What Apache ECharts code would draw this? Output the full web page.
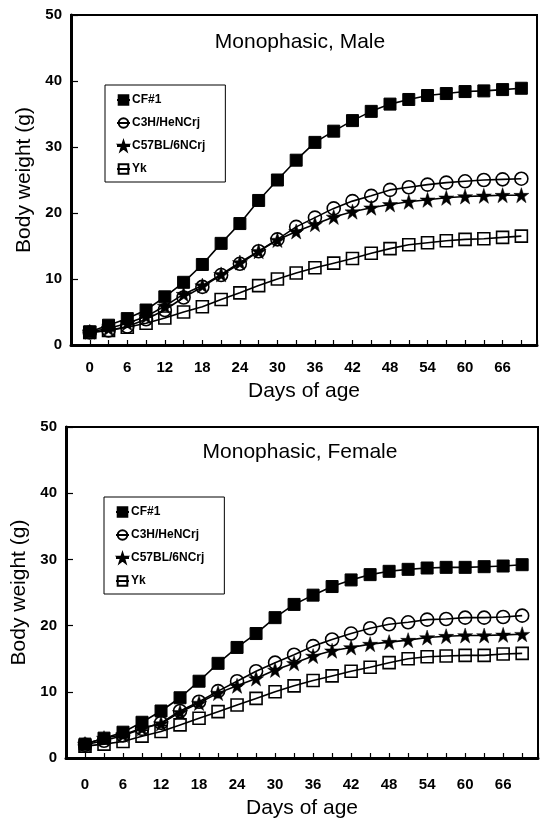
<!DOCTYPE html>
<html>
<head>
<meta charset="utf-8">
<script src="https://cdn.jsdelivr.net/npm/echarts@6/dist/echarts.min.js"></script>
<style>
html,body{margin:0;padding:0;background:#fff;}
#chart{width:541px;height:820px;}
</style>
</head>
<body>
<div id="chart"></div>
<script>
// ---- data ----
const days = [0,3,6,9,12,15,18,21,24,27,30,33,36,39,42,45,48,51,54,57,60,63,66,69];
const seriesNames = ['CF#1','C3H/HeNCrj','C57BL/6NCrj','Yk'];
const panelTitles = ['Monophasic, Male','Monophasic, Female'];
const xTickLabels = [0,6,12,18,24,30,36,42,48,54,60,66];
const yTickLabels = [0,10,20,30,40,50];

const maleCF   = [2.0,3.0,4.0,5.3,7.3,9.5,12.2,15.4,18.4,21.9,25.0,28.0,30.7,32.4,34.0,35.4,36.5,37.2,37.8,38.1,38.4,38.5,38.7,38.9];
const maleC3H  = [1.9,2.2,2.8,3.9,5.3,7.2,8.8,10.6,12.3,14.2,16.0,17.9,19.3,20.7,21.8,22.6,23.5,23.9,24.3,24.6,24.8,25.0,25.1,25.2];
const maleC57  = [2.0,2.5,3.3,4.3,5.9,7.7,9.0,10.7,12.5,14.2,15.9,17.2,18.3,19.4,20.2,20.8,21.3,21.7,22.0,22.3,22.5,22.6,22.7,22.7];
const maleYk   = [1.9,2.2,2.7,3.3,4.1,5.0,5.8,6.9,7.9,9.0,10.0,10.9,11.7,12.4,13.1,13.9,14.6,15.2,15.5,15.8,16.0,16.1,16.3,16.5];

const femaleCF  = [2.1,3.0,3.9,5.4,7.1,9.1,11.6,14.3,16.7,18.8,21.2,23.2,24.6,25.9,26.9,27.7,28.2,28.5,28.7,28.8,28.8,28.9,29.0,29.2];
const femaleC3H = [2.0,2.6,3.4,4.4,5.3,7.1,8.5,10.1,11.6,13.1,14.4,15.6,16.9,17.9,18.8,19.6,20.2,20.5,20.9,21.0,21.2,21.2,21.3,21.5];
const femaleC57 = [2.1,3.0,3.5,4.5,5.2,6.9,8.3,9.8,10.9,12.0,13.3,14.3,15.4,16.2,16.7,17.2,17.5,17.8,18.2,18.4,18.5,18.5,18.6,18.7];
const femaleYk  = [1.8,2.1,2.5,3.3,4.0,5.0,6.0,7.0,8.0,9.0,10.0,10.9,11.7,12.4,13.1,13.7,14.4,15.0,15.3,15.4,15.5,15.5,15.7,15.8];

const panels = [
  [maleCF, maleC3H, maleC57, maleYk],
  [femaleCF, femaleC3H, femaleC57, femaleYk]
];

// ---- styles ----
const FONT = 'Liberation Sans, Arial, sans-serif';
const STAR = 'path://M50,0 L61.8,35.1 L98.9,35.1 L68.9,57 L80.3,92.7 L50,70.6 L19.7,92.7 L31.1,57 L1.1,35.1 L38.2,35.1 Z';
const markerStyles = [
  {symbol:'rect', size:12, itemStyle:{color:'#000', borderColor:'#000', borderWidth:1}},
  {symbol:'circle', size:13, itemStyle:{color:'rgba(255,255,255,0)', borderColor:'#000', borderWidth:1.6}},
  {symbol:STAR, size:15, itemStyle:{color:'#000', borderColor:'#000', borderWidth:0.5}},
  {symbol:'rect', size:12, itemStyle:{color:'rgba(255,255,255,0)', borderColor:'#000', borderWidth:1.6}}
];

const grids = [
  {left:71, top:15, width:466, height:330},
  {left:66, top:427, width:472, height:334}
];
const xLabelMargin = [15, 19];
const xNameGap = [36, 40];
const titlePos = [{top:32}, {top:442}];
const legendPos = [{left:105, top:85}, {left:104, top:497}];

const option = {
  animation:false,
  backgroundColor:'#fff',
  title: panelTitles.map((t,i)=>({
    text:t, left:300, textAlign:'center', top:titlePos[i].top, padding:0,
    textStyle:{fontFamily:FONT, fontSize:21, fontWeight:'normal', color:'#000'}
  })),
  legend: [0,1].map(i=>({
    orient:'vertical', left:legendPos[i].left, top:legendPos[i].top,
    data: seriesNames,
    itemWidth:13, itemHeight:12, itemGap:11,
    padding:[9,20,7,11],
    borderColor:'#000', borderWidth:1, backgroundColor:'#fff',
    textStyle:{fontFamily:FONT, fontSize:12, fontWeight:'bold', color:'#000', padding:[0,0,0,-3]},
    selectedMode:false
  })),
  grid: grids.map(g=>({left:g.left, top:g.top, width:g.width, height:g.height,
    show:true, borderColor:'#000', borderWidth:2, backgroundColor:'transparent'})),
  xAxis: [0,1].map(i=>({
    gridIndex:i, type:'value', min:-3, max:71.5, interval:3,
    name:'Days of age', nameLocation:'middle', nameGap:xNameGap[i],
    nameTextStyle:{fontFamily:FONT, fontSize:21, color:'#000'},
    axisLine:{show:true, onZero:false, lineStyle:{color:'#000', width:3}},
    axisTick:{show:true, inside:true, length:5, lineStyle:{color:'#000', width:1.2}},
    splitLine:{show:false},
    axisLabel:{margin:xLabelMargin[i], fontFamily:FONT, fontSize:15, fontWeight:'bold', color:'#000',
      showMinLabel:true, showMaxLabel:true,
      formatter:v=> xTickLabels.indexOf(v) >= 0 ? String(v) : ''}
  })),
  yAxis: [0,1].map(i=>({
    gridIndex:i, type:'value', min:0, max:50, interval:10,
    name:'Body weight (g)', nameLocation:'middle', nameGap:36,
    nameTextStyle:{fontFamily:FONT, fontSize:21, color:'#000'},
    axisLine:{show:true, onZero:false, lineStyle:{color:'#000', width:3}},
    axisTick:{show:true, inside:true, length:7, lineStyle:{color:'#000', width:1.2}},
    splitLine:{show:false},
    axisLabel:{margin:9, fontFamily:FONT, fontSize:15, fontWeight:'bold', color:'#000',
      formatter:v=> yTickLabels.indexOf(v) >= 0 ? String(v) : ''}
  })),
  series: []
};

panels.forEach((vals, p)=>{
  vals.forEach((arr, k)=>{
    const m = markerStyles[k];
    option.series.push({
      name: seriesNames[k], type:'line',
      xAxisIndex:p, yAxisIndex:p,
      data: days.map((d,j)=>[d, arr[j]]),
      symbol:m.symbol, symbolSize:m.size, showSymbol:true,
      itemStyle:m.itemStyle,
      lineStyle:{color:'#000', width:1.6},
      emphasis:{disabled:true},
      z: 2 + (3-k)
    });
  });
});

const chart = echarts.init(document.getElementById('chart'), null, {renderer:'canvas'});
chart.setOption(option);
</script>
</body>
</html>
